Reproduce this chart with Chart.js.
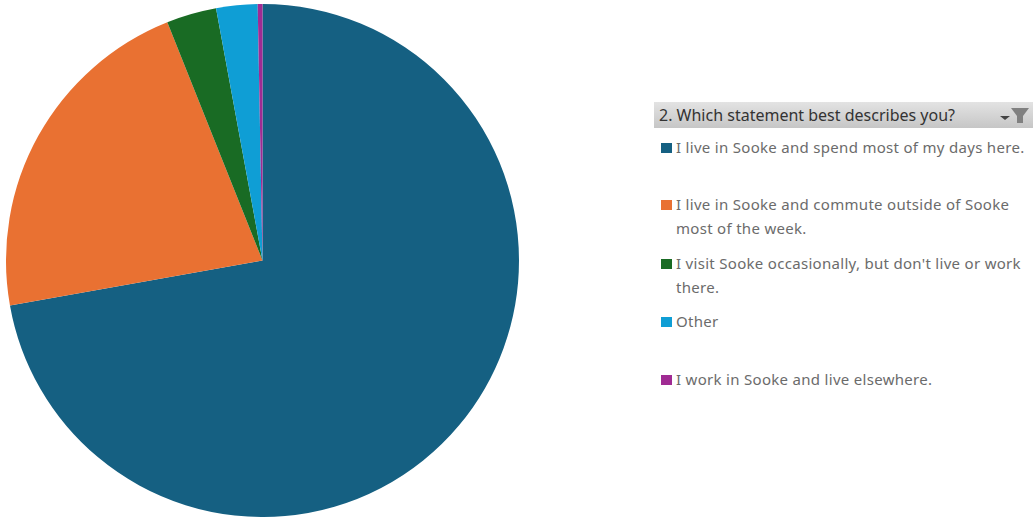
<!DOCTYPE html>
<html>
<head>
<meta charset="utf-8">
<script src="https://cdn.jsdelivr.net/npm/chart.js@4"></script>
<style>
  html, body { margin: 0; padding: 0; background: #fff; overflow: hidden; }
  body { width: 1033px; height: 517px; position: relative; font-family: "Noto Sans", sans-serif; }
  #chartBox { position: absolute; left: 0; top: 0; width: 525px; height: 517px; }
  #header {
    position: absolute; left: 654px; top: 102px; width: 379px; height: 26px; line-height: 26px;
    background: linear-gradient(#e3e3e3, #c6c6c6); color: #333; font-size: 16px;
    padding-left: 5px; box-sizing: border-box; white-space: nowrap;
  }
  #header svg { position: absolute; left: 345px; top: 5px; }
  .item { position: absolute; left: 676px; width: 354px; color: #6b6b6b; font-size: 15px; line-height: 23.5px; letter-spacing: 0.3px; }
  .swatch { position: absolute; left: -15px; top: 7px; width: 11px; height: 10px; }
</style>
</head>
<body>
<div id="chartBox"><canvas id="pie"></canvas></div>
<div id="legend">
  <div id="header">2. Which statement best describes you?
    <svg width="30" height="17" viewBox="0 0 30 17">
      <path d="M1 9h10l-5 4z" fill="#444"/>
      <path d="M12 1h18l-6 8v7h-6V9z" fill="#808080"/>
    </svg>
  </div>
</div>
<script>
const categories = [
  "I live in Sooke and spend most of my days here.",
  "I live in Sooke and commute outside of Sooke most of the week.",
  "I visit Sooke occasionally, but don't live or work there.",
  "Other",
  "I work in Sooke and live elsewhere."
];
const shares = [72.2, 21.75, 3.15, 2.6, 0.3];
const colors = ['#156082', '#E97132', '#196B24', '#0F9ED5', '#A02B93'];
const legendTops = [136, 193, 252, 310, 368];

new Chart(document.getElementById('pie'), {
  type: 'pie',
  data: {
    labels: categories,
    datasets: [{ data: shares, backgroundColor: colors, borderWidth: 0 }]
  },
  options: {
    responsive: true,
    maintainAspectRatio: false,
    animation: false,
    layout: { padding: { top: 4, bottom: 0 } },
    plugins: { legend: { display: false }, tooltip: { enabled: false } }
  }
});

const legend = document.getElementById('legend');
categories.forEach((name, i) => {
  const item = document.createElement('div');
  item.className = 'item';
  item.style.top = legendTops[i] + 'px';
  item.textContent = name;
  const swatch = document.createElement('span');
  swatch.className = 'swatch';
  swatch.style.background = colors[i];
  item.appendChild(swatch);
  legend.appendChild(item);
});
</script>
</body>
</html>
